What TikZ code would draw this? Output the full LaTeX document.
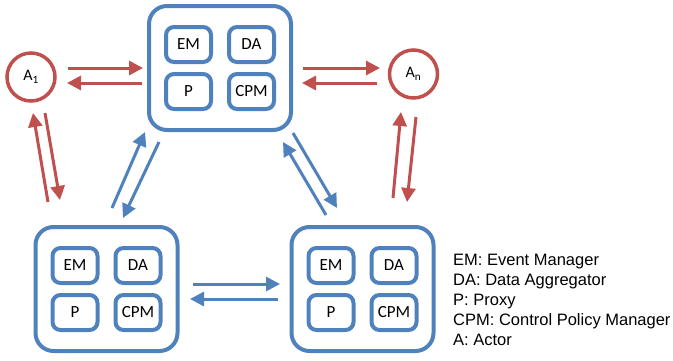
\documentclass[tikz,border=0pt]{standalone}
\usepackage{fontspec}
\setmainfont{Carlito}
\newfontfamily\legendfont{Liberation Sans}
\usetikzlibrary{arrows.meta,calc}
\definecolor{nodeblue}{RGB}{79,129,189}
\definecolor{actorred}{RGB}{192,80,77}

\begin{document}
\begin{tikzpicture}[x=1pt, y=-1pt,
    cluster/.style={draw=nodeblue, line width=4pt, rounded corners=18pt, minimum width=142pt, minimum height=124pt},
    unit/.style={draw=nodeblue, line width=4pt, rounded corners=8pt, minimum width=45pt, minimum height=35pt, font=\fontsize{17}{20}\selectfont},
    actor/.style={draw=actorred, line width=3.5pt, circle, minimum size=48pt, inner sep=0pt, font=\fontsize{16}{19}\selectfont},
    bluearrow/.style={draw=nodeblue, line width=3pt, -{Triangle[length=14pt,width=14pt]}},
    redarrow/.style={draw=actorred, line width=3pt, -{Triangle[length=14pt,width=14pt]}}]
        \useasboundingbox (0,0) rectangle (673,360);
        % Draw the three clusters
        \foreach \n/\x/\y in {top/220/68, left/106.5/289, right/362.5/289} {
            \node[cluster] (\n) at (\x,\y) {};
            \node[unit] (\n-em) at (\x-31.5,\y-23.5) {EM};
            \node[unit] (\n-da) at (\x+31.5,\y-23.5) {DA};
            \node[unit] (\n-p) at (\x-31.5,\y+23.5) {P};
            \node[unit] (\n-cpm) at (\x+31.5,\y+23.5) {CPM};
        }
        % Draw actors
        \node[actor] (a1) at (31,77) {A\textsubscript{1}};
        \node[actor] (an) at (413.5,74) {A\textsubscript{n}};
        % Draw actor links
        \draw[redarrow] ($(a1)+(37,-9)$) -- ($(top)+(-77,0)$);
        \draw[redarrow] ($(top)+(-78,15)$) -- ($(a1)+(36,6)$);
        \draw[redarrow] ($(top)+(83,0)$) -- ($(an)+(-33.5,-6)$);
        \draw[redarrow] ($(an)+(-36.5,9)$) -- ($(top)+(82,15)$);
        \draw[redarrow] ($(left)+(-58.5,-87)$) -- ($(a1)+(2,36)$);
        \draw[redarrow] ($(a1)+(14,36)$) -- ($(left)+(-46.5,-89)$);
        \draw[redarrow] ($(right)+(30.5,-91)$) -- ($(an)+(-12.5,38)$);
        \draw[redarrow] ($(an)+(2.5,43)$) -- ($(right)+(44.5,-87)$);
        % Draw cluster links
        \draw[bluearrow] ($(left)+(5.5,-81)$) -- ($(top)+(-75,64)$);
        \draw[bluearrow] ($(top)+(-61,74)$) -- ($(left)+(16.5,-71)$);
        \draw[bluearrow] ($(right)+(-36.5,-74)$) -- ($(top)+(63,74)$);
        \draw[bluearrow] ($(top)+(73,65)$) -- ($(right)+(-25.5,-81)$);
        \draw[bluearrow] ($(left)+(86.5,-5)$) -- ($(right)+(-82.5,-5)$);
        \draw[bluearrow] ($(right)+(-84.5,10)$) -- ($(left)+(83.5,10)$);
        % Legend
        \node[anchor=north west, inner sep=0pt, align=left, font=\legendfont\fontsize{16.5}{20}\selectfont] (legend) at (453,254)
            {EM: Event Manager\\DA: Data Aggregator\\P: Proxy\\CPM: Control Policy Manager\\A: Actor};
    \end{tikzpicture}
\end{document}
